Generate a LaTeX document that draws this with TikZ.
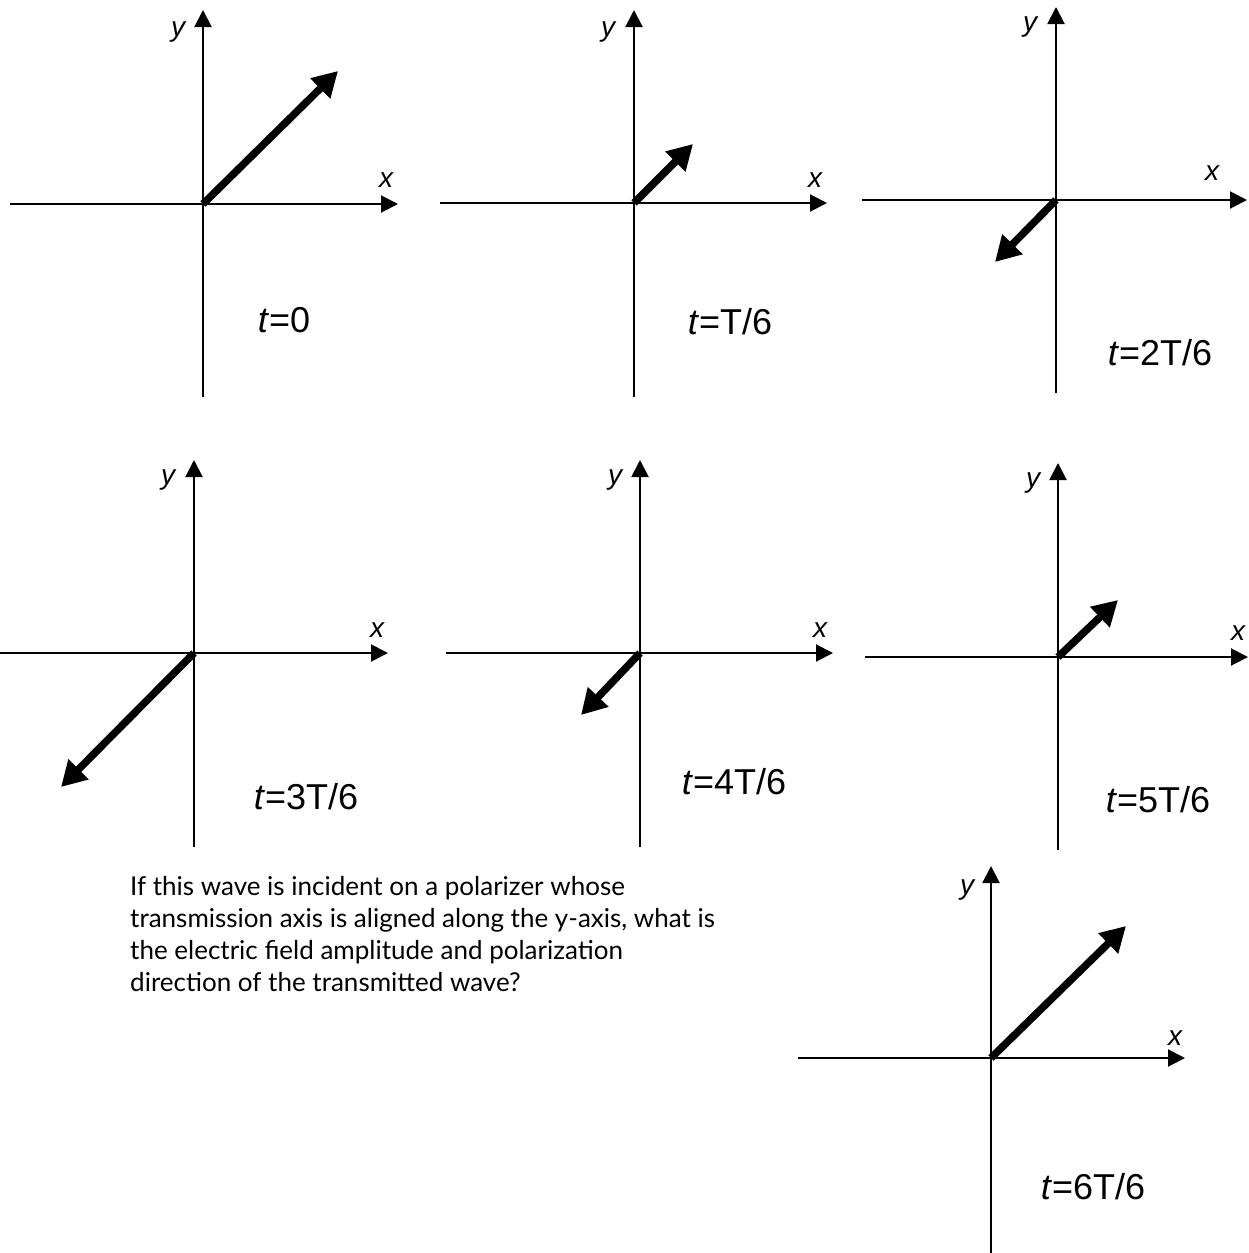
\documentclass[tikz,border=0pt]{standalone}
\usepackage{fontspec}
\setmainfont{Liberation Sans}
\newfontfamily\gillfont{Lato}
\usetikzlibrary{arrows.meta}
\begin{document}
\begin{tikzpicture}[x=1pt,y=-1pt,
  axis/.style={line width=2pt,-{Triangle[length=17pt,width=17pt]}},
  vec/.style={line width=7.5pt,-{Triangle[length=25pt,width=27pt]}},
  lab/.style={inner sep=0pt,font=\fontsize{28}{28}\selectfont\itshape},
  tl/.style={inner sep=0pt,font=\fontsize{36}{36}\selectfont},
  para/.style={inner sep=0pt,anchor=north west,align=left,font=\gillfont\fontsize{26}{32}\selectfont}]
\useasboundingbox (0,0) rectangle (1248,1253);

% ---- panel 1: t=0
\coordinate (O1) at (203,204);
\coordinate (xl1) at (10,204);  \coordinate (xr1) at (398,204);
\coordinate (yb1) at (203,397); \coordinate (yt1) at (203,10);
\coordinate (e1) at (338,71);
\draw[axis] (xl1) -- (xr1);
\draw[axis] (yb1) -- (yt1);
\draw[vec] (O1) -- (e1);
\node[lab] (ly1) at (178,32) {y};
\node[lab] (lx1) at (386,180) {x};
\node[tl] (t1) at (284,320) {\textit{t}=0};

% ---- panel 2: t=T/6
\coordinate (O2) at (634,203);
\coordinate (xl2) at (440,203); \coordinate (xr2) at (827,203);
\coordinate (yb2) at (634,397); \coordinate (yt2) at (634,10);
\coordinate (e2) at (693,144);
\draw[axis] (xl2) -- (xr2);
\draw[axis] (yb2) -- (yt2);
\draw[vec] (O2) -- (e2);
\node[lab] (ly2) at (608,32) {y};
\node[lab] (lx2) at (815,180) {x};
\node[tl] (t2) at (730,322) {\textit{t}=T/6};

% ---- panel 3: t=2T/6
\coordinate (O3) at (1056,200);
\coordinate (xl3) at (862,200); \coordinate (xr3) at (1247,200);
\coordinate (yb3) at (1056,393); \coordinate (yt3) at (1056,7);
\coordinate (e3) at (995,262);
\draw[axis] (xl3) -- (xr3);
\draw[axis] (yb3) -- (yt3);
\draw[vec] (O3) -- (e3);
\node[lab] (ly3) at (1030,27) {y};
\node[lab] (lx3) at (1212,173) {x};
\node[tl] (t3) at (1160,353) {\textit{t}=2T/6};

% ---- panel 4: t=3T/6
\coordinate (O4) at (194,653);
\coordinate (xl4) at (0,653);   \coordinate (xr4) at (388,653);
\coordinate (yb4) at (194,847); \coordinate (yt4) at (194,460);
\coordinate (e4) at (61,787);
\draw[axis] (xl4) -- (xr4);
\draw[axis] (yb4) -- (yt4);
\draw[vec] (O4) -- (e4);
\node[lab] (ly4) at (168,480) {y};
\node[lab] (lx4) at (377,630) {x};
\node[tl] (t4) at (306,797) {\textit{t}=3T/6};

% ---- panel 5: t=4T/6
\coordinate (O5) at (640,653);
\coordinate (xl5) at (446,653); \coordinate (xr5) at (833,653);
\coordinate (yb5) at (640,847); \coordinate (yt5) at (640,460);
\coordinate (e5) at (581,715);
\draw[axis] (xl5) -- (xr5);
\draw[axis] (yb5) -- (yt5);
\draw[vec] (O5) -- (e5);
\node[lab] (ly5) at (615,480) {y};
\node[lab] (lx5) at (820,630) {x};
\node[tl] (t5) at (734,782) {\textit{t}=4T/6};

% ---- panel 6: t=5T/6
\coordinate (O6) at (1058,657);
\coordinate (xl6) at (865,657); \coordinate (xr6) at (1248,657);
\coordinate (yb6) at (1058,850); \coordinate (yt6) at (1058,463);
\coordinate (e6) at (1118,600);
\draw[axis] (xl6) -- (xr6);
\draw[axis] (yb6) -- (yt6);
\draw[vec] (O6) -- (e6);
\node[lab] (ly6) at (1033,483) {y};
\node[lab] (lx6) at (1238,633) {x};
\node[tl] (t6) at (1158,800) {\textit{t}=5T/6};

% ---- panel 7: t=6T/6
\coordinate (O7) at (991,1058);
\coordinate (xl7) at (798,1058); \coordinate (xr7) at (1185,1058);
\coordinate (yb7) at (991,1253); \coordinate (yt7) at (991,866);
\coordinate (e7) at (1126,926);
\draw[axis] (xl7) -- (xr7);
\draw[axis] (yb7) -- (yt7);
\draw[vec] (O7) -- (e7);
\node[lab] (ly7) at (967,890) {y};
\node[lab] (lx7) at (1175,1038) {x};
\node[tl] (t7) at (1093,1187) {\textit{t}=6T/6};

% ---- question text
\node[para] (q) at (130,876) {If this wave is incident on a polarizer whose\\
transmission axis is aligned along the y-axis, what is\\
the electric field amplitude and polarization\\
direction of the transmitted wave?};
\end{tikzpicture}
\end{document}
